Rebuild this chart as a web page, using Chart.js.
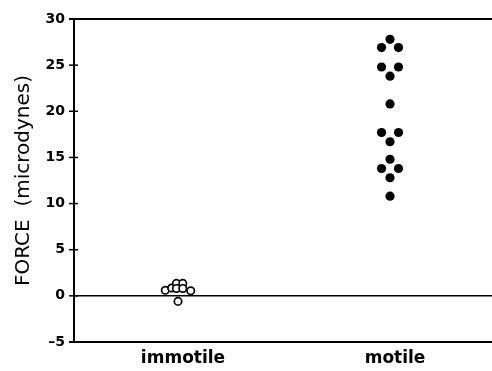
<!DOCTYPE html>
<html>
<head>
<meta charset="utf-8">
<script src="https://cdn.jsdelivr.net/npm/chart.js@4/dist/chart.umd.min.js"></script>
<style>
html,body{margin:0;padding:0;background:#fff;overflow:hidden;}
canvas{display:block;}
</style>
</head>
<body>
<canvas id="c" width="492" height="371" style="width:492px;height:371px;"></canvas>
<script>
// ---- data ----
const categories = ["immotile", "motile"];
const categoryPositions = [1, 3];
const yTicks = [-5, 0, 5, 10, 15, 20, 25, 30];
const yTitle = "FORCE  (microdynes)";

// immotile: forces and horizontal jitter (category units)
const immotileForce  = [0.6, 0.85, 1.35, 0.8, 1.35, 0.8, 0.55, -0.6];
const immotileJitter = [-0.12, -0.06, -0.015, -0.015, 0.045, 0.045, 0.12, 0.0];

// motile: forces and horizontal jitter (category units)
const motileForce  = [27.8, 26.9, 26.9, 24.8, 24.8, 23.8, 20.8, 17.7, 17.7, 16.7, 14.8, 13.8, 13.8, 12.8, 10.8];
const motileJitter = [0, -0.08, 0.08, -0.08, 0.08, 0, 0, -0.08, 0.08, 0, 0, -0.08, 0.08, 0, 0];

const immotilePts = immotileForce.map((v, i) => ({x: categoryPositions[0] + immotileJitter[i], y: v}));
const motilePts = motileForce.map((v, i) => ({x: categoryPositions[1] + motileJitter[i], y: v}));

const FONT = "'DejaVu Sans', sans-serif";

const framePlugin = {
  id: 'frame',
  afterDatasetsDraw(chart) {
    const {ctx, chartArea: a, scales: {x, y}} = chart;
    ctx.save();
    ctx.strokeStyle = '#000';
    // zero line
    ctx.lineWidth = 1.5;
    const y0 = y.getPixelForValue(0);
    ctx.beginPath(); ctx.moveTo(a.left, y0); ctx.lineTo(a.right, y0); ctx.stroke();
    // top & bottom lines
    ctx.lineWidth = 2;
    ctx.beginPath(); ctx.moveTo(a.left - 5, a.top); ctx.lineTo(a.right, a.top); ctx.stroke();
    ctx.beginPath(); ctx.moveTo(a.left - 5, a.bottom); ctx.lineTo(a.right, a.bottom); ctx.stroke();
    // left axis
    ctx.beginPath(); ctx.moveTo(a.left, a.top - 1); ctx.lineTo(a.left, a.bottom + 1); ctx.stroke();
    // y ticks crossing axis
    ctx.lineWidth = 1.5;
    yTicks.forEach(t => {
      const py = y.getPixelForValue(t);
      ctx.beginPath(); ctx.moveTo(a.left - 5, py); ctx.lineTo(a.left + 4, py); ctx.stroke();
    });
    ctx.restore();
  }
};

new Chart(document.getElementById('c'), {
  type: 'scatter',
  data: {
    datasets: [
      {
        label: categories[0],
        data: immotilePts,
        pointStyle: 'circle',
        pointRadius: 3.7,
        pointBorderWidth: 1.7,
        pointBackgroundColor: '#fff',
        pointBorderColor: '#000'
      },
      {
        label: categories[1],
        data: motilePts,
        pointStyle: 'circle',
        pointRadius: 4.6,
        pointBorderWidth: 0,
        pointBackgroundColor: '#000',
        pointBorderColor: '#000'
      }
    ]
  },
  options: {
    responsive: false,
    maintainAspectRatio: false,
    animation: false,
    devicePixelRatio: 1,
    layout: {autoPadding: false, padding: {left: 0, top: 19, right: 0, bottom: 0}},
    plugins: {legend: {display: false}, tooltip: {enabled: false}},
    scales: {
      x: {
        type: 'linear',
        min: 0.019,
        max: 3.962,
        afterBuildTicks(scale) {
          scale.ticks = categoryPositions.map(v => ({value: v}));
        },
        afterFit(scale) { scale.height = 29; scale.paddingLeft = 0; scale.paddingRight = 0; },
        grid: {display: false, drawTicks: false},
        border: {display: false},
        ticks: {
          color: '#000',
          padding: 6,
          labelOffset: 5,
          font: {family: FONT, size: 17, weight: 'bold'},
          callback(v) {
            const i = categoryPositions.indexOf(v);
            return i >= 0 ? categories[i] : '';
          }
        }
      },
      y: {
        type: 'linear',
        min: -5,
        max: 30,
        afterBuildTicks(scale) {
          scale.ticks = yTicks.map(v => ({value: v}));
        },
        afterFit(scale) { scale.width = 74; },
        grid: {display: false, drawTicks: false},
        border: {display: false},
        ticks: {
          color: '#000',
          padding: 9,
          font: {family: FONT, size: 14, weight: 'bold'},
          callback(v) { return v < 0 ? '\u2013' + Math.abs(v) : String(v); }
        },
        title: {
          display: true,
          text: yTitle,
          color: '#000',
          padding: {top: 12, bottom: 0},
          font: {family: FONT, size: 20, weight: 'normal'}
        }
      }
    }
  },
  plugins: [framePlugin]
});
</script>
</body>
</html>
